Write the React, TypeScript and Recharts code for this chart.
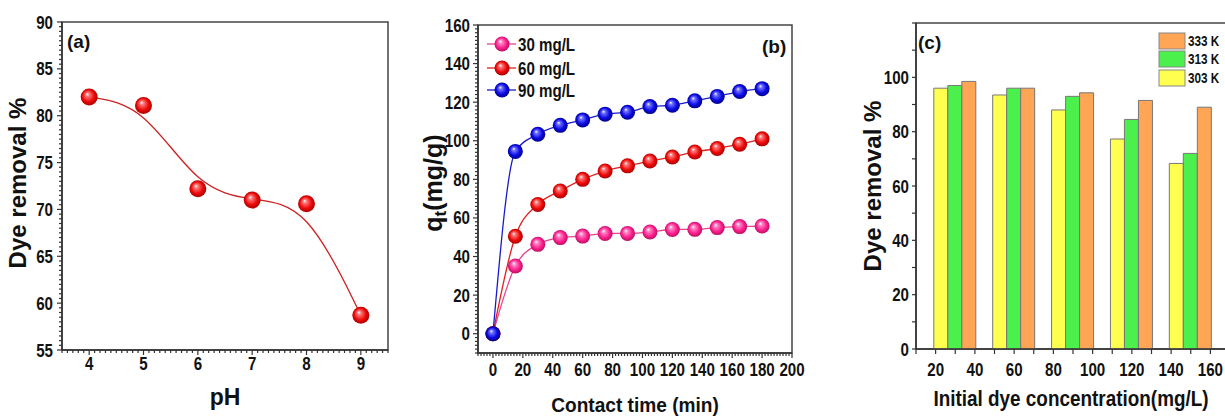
import React from "react";
import {
  Bar,
  BarChart,
  Customized,
  Line,
  LineChart,
  ReferenceArea,
  XAxis,
  YAxis,
} from "recharts";

// (a) effect of pH
const phValues = [4, 5, 6, 7, 8, 9];
const phRemoval = [82, 81.1, 72.2, 71, 70.6, 58.7];
const phTicks = [4, 5, 6, 7, 8, 9];
const phRemovalTicks = [55, 60, 65, 70, 75, 80, 85, 90];

// (b) effect of contact time
const contactTime = [0, 15, 30, 45, 60, 75, 90, 105, 120, 135, 150, 165, 180];
const qt30 = [0, 35.1, 46.3, 49.8, 50.6, 51.9, 52, 52.7, 54, 54.1, 55, 55.5, 55.8];
const qt60 = [0, 50.5, 67, 74, 80, 84.3, 87, 89.5, 91.6, 94.2, 96, 98.2, 101];
const qt90 = [0, 94.5, 103.4, 108, 110.8, 113.8, 114.8, 117.7, 118.4, 120.7, 123, 125.5, 127];
const timeTicks = [0, 20, 40, 60, 80, 100, 120, 140, 160, 180, 200];
const qtTicks = [0, 20, 40, 60, 80, 100, 120, 140, 160];

// (c) effect of initial concentration at three temperatures
const concentrations = [30, 60, 90, 120, 150];
const removal303 = [96, 93.5, 88, 77.3, 68.3];
const removal313 = [97, 96, 93, 84.5, 72];
const removal333 = [98.5, 96, 94.3, 91.5, 89];
const concTicks = [20, 40, 60, 80, 100, 120, 140, 160];
const removalTicks = [0, 20, 40, 60, 80, 100];

const phData = phValues.map((ph, i) => ({ ph, removal: phRemoval[i] }));
const kineticsData = contactTime.map((t, i) => ({
  t,
  c30: qt30[i],
  c60: qt60[i],
  c90: qt90[i],
}));
const concData = concentrations.map((c, i) => ({
  c,
  k303: removal303[i],
  k313: removal313[i],
  k333: removal333[i],
}));

// minor tick helper (axis decoration only)
const steps = (from: number, to: number, step: number) => {
  const out: number[] = [];
  for (let v = from; v <= to + 1e-9; v += step) out.push(+v.toFixed(3));
  return out;
};
const isIn = (list: number[], v: number) => list.some((m) => Math.abs(m - v) < 1e-6);

const FONT = "'Liberation Sans', Arial, sans-serif";
const INK = "#111";
const SQ = 0.84; // the figure uses a condensed bold face

const axisLine = { stroke: "#333", strokeWidth: 1.5 };
const TICK_STROKE = "#333";
const tickFont = { fill: INK, fontSize: 18, fontWeight: 700, fontFamily: FONT };

const bottomTick = (major: number[], gap: number, minorLen = 3, majorLen = 5) => (p: any) => {
  const v = p.payload.value;
  const big = isIn(major, v);
  return (
    <g key={`bx-${v}`}>
      <line x1={p.x} x2={p.x} y1={p.y} y2={p.y + (big ? majorLen : minorLen)} stroke={TICK_STROKE} strokeWidth={1.2} />
      {big && (
        <text transform={`translate(${p.x} ${p.y + gap}) scale(${SQ} 1)`} textAnchor="middle" {...tickFont}>
          {v}
        </text>
      )}
    </g>
  );
};

const leftTick = (major: number[], gap: number, minorLen = 3, majorLen = 5) => (p: any) => {
  const v = p.payload.value;
  const big = isIn(major, v);
  return (
    <g key={`ly-${v}`}>
      <line x1={p.x} x2={p.x - (big ? majorLen : minorLen)} y1={p.y} y2={p.y} stroke={TICK_STROKE} strokeWidth={1.2} />
      {big && (
        <text transform={`translate(${p.x - gap} ${p.y + 6.5}) scale(${SQ} 1)`} textAnchor="end" {...tickFont}>
          {v}
        </text>
      )}
    </g>
  );
};

const spheres = [
  { id: "red", light: "#ff7a7a", base: "#ee0a0a", dark: "#9a0000" },
  { id: "pink", light: "#ff8cc6", base: "#ff1f8f", dark: "#a80d55" },
  { id: "blue", light: "#7272ff", base: "#0a0ae6", dark: "#000070" },
];

function SphereDefs() {
  return (
    <defs>
      {spheres.map((s) => (
        <radialGradient key={s.id} id={`sph-${s.id}`} cx="0.5" cy="0.5" r="0.55" fx="0.38" fy="0.32">
          <stop offset="0" stopColor="#ffffff" />
          <stop offset="0.2" stopColor={s.light} />
          <stop offset="0.62" stopColor={s.base} />
          <stop offset="1" stopColor={s.dark} />
        </radialGradient>
      ))}
    </defs>
  );
}

const sphereDot = (id: string, r: number) => (p: any) => {
  if (p.cx == null || p.cy == null) return <g key={`${id}-${p.index}`} />;
  return <circle key={`${id}-${p.index}`} cx={p.cx} cy={p.cy} r={r} fill={`url(#sph-${id})`} />;
};

const titleStyle = { fill: INK, fontWeight: 700, fontFamily: FONT } as const;

function PhDecor() {
  return (
    <g>
      <SphereDefs />
      <text x={67} y={48} fontSize={19} {...titleStyle}>(a)</text>
      <text x={17} y={183} fontSize={24} textAnchor="middle" dominantBaseline="central"
        transform="rotate(-90 17 183)" {...titleStyle}>Dye removal %</text>
      <text x={225} y={405} fontSize={23} textAnchor="middle" {...titleStyle}>pH</text>
    </g>
  );
}

const kinRows = [
  { label: "30 mg/L", id: "pink", color: "#e8428e", y: 44 },
  { label: "60 mg/L", id: "red", color: "#e02020", y: 68 },
  { label: "90 mg/L", id: "blue", color: "#1a1acc", y: 90 },
];

function KineticsDecor() {
  return (
    <g>
      {kinRows.map((r) => (
        <g key={r.id}>
          <line x1={87} x2={116} y1={r.y} y2={r.y} stroke={r.color} strokeWidth={1.3} />
          <circle cx={102} cy={r.y} r={7.5} fill={`url(#sph-${r.id})`} />
          <text transform={`translate(118 ${r.y + 6.5}) scale(${SQ} 1)`} {...tickFont}>{r.label}</text>
        </g>
      ))}
      <text x={362} y={53} fontSize={19} {...titleStyle}>(b)</text>
      <text x={33} y={183} fontSize={25} textAnchor="middle" dominantBaseline="central"
        transform="rotate(-90 33 183)" {...titleStyle}>
        <tspan>q</tspan>
        <tspan dy={7} fontSize={17}>t</tspan>
        <tspan dy={-7}>(mg/g)</tspan>
      </text>
      <text transform={`translate(235 412) scale(0.91 1)`} fontSize={21} textAnchor="middle" {...titleStyle}>
        Contact time (min)
      </text>
    </g>
  );
}

const tempRows = [
  { label: "333 K", color: "#ffa556", y: 33 },
  { label: "313 K", color: "#4cf04c", y: 51 },
  { label: "303 K", color: "#ffff50", y: 70 },
];

function ConcDecor() {
  return (
    <g>
      {tempRows.map((r) => (
        <g key={r.label}>
          <rect x={329} y={r.y} width={26} height={16} fill={r.color} stroke="#888" strokeWidth={1} />
          <text transform={`translate(358 ${r.y + 13}) scale(${SQ} 1)`} {...tickFont} fontSize={14}>{r.label}</text>
        </g>
      ))}
      <text x={88} y={49} fontSize={19} {...titleStyle}>(c)</text>
      <text x={42} y={186} fontSize={24} textAnchor="middle" dominantBaseline="central"
        transform="rotate(-90 42 186)" {...titleStyle}>Dye removal %</text>
      <text transform={`translate(241 406) scale(0.86 1)`} fontSize={22} textAnchor="middle" {...titleStyle}>
        Initial dye concentration(mg/L)
      </text>
    </g>
  );
}

const axisCommon = { tickSize: 0, tickMargin: 0, tickLine: false, interval: 0 as const, allowDataOverflow: true };

function PhChart() {
  return (
    <LineChart width={400} height={416} data={phData} margin={{ top: 22, right: 12, bottom: 36, left: 0 }}>
      <XAxis dataKey="ph" type="number" domain={[3.5, 9.5]} ticks={steps(3.5, 9.5, 0.1)} height={30}
        axisLine={axisLine} tick={bottomTick(phTicks, 20)} {...axisCommon} />
      <YAxis type="number" domain={[55, 90]} ticks={steps(55, 90, 0.5)} width={62}
        axisLine={axisLine} tick={leftTick(phRemovalTicks, 9)} {...axisCommon} />
      <ReferenceArea x1={3.5} x2={9.5} y1={55} y2={90} fill="none" stroke="#444" strokeWidth={1.5} ifOverflow="visible" />
      <Customized component={PhDecor} />
      <Line dataKey="removal" type="basis" stroke="#cc2222" strokeWidth={1.3}
        dot={sphereDot("red", 8.5)} activeDot={false} isAnimationActive={false} />
    </LineChart>
  );
}

function KineticsChart() {
  return (
    <LineChart width={420} height={416} data={kineticsData} margin={{ top: 25, right: 28, bottom: 33, left: 0 }}>
      <XAxis dataKey="t" type="number" domain={[-10, 200]} ticks={steps(-10, 200, 2)} height={30}
        axisLine={axisLine} tick={bottomTick(timeTicks, 23)} {...axisCommon} />
      <YAxis type="number" domain={[-10, 160]} ticks={steps(-10, 160, 2)} width={78}
        axisLine={axisLine} tick={leftTick(qtTicks, 8)} {...axisCommon} />
      <ReferenceArea x1={-10} x2={200} y1={-10} y2={160} fill="none" stroke="#444" strokeWidth={1.5} ifOverflow="visible" />
      <Customized component={KineticsDecor} />
      <Line dataKey="c30" type="monotone" stroke="#e8428e" strokeWidth={1.3}
        dot={sphereDot("pink", 7.5)} activeDot={false} isAnimationActive={false} />
      <Line dataKey="c60" type="monotone" stroke="#e02020" strokeWidth={1.3}
        dot={sphereDot("red", 7.5)} activeDot={false} isAnimationActive={false} />
      <Line dataKey="c90" type="monotone" stroke="#1a1acc" strokeWidth={1.3}
        dot={sphereDot("blue", 7.5)} activeDot={false} isAnimationActive={false} />
    </LineChart>
  );
}

function ConcChart() {
  return (
    <BarChart width={400} height={416} data={concData} barGap={0}
      margin={{ top: 23, right: 0, bottom: 37, left: 0 }}>
      <XAxis dataKey="c" type="number" domain={[10, 170]} ticks={steps(10, 170, 10)} height={30}
        axisLine={axisLine} tick={bottomTick(concTicks, 27, 5, 5)} {...axisCommon} />
      <YAxis type="number" domain={[0, 120]} ticks={steps(0, 120, 10)} width={86}
        axisLine={axisLine} tick={leftTick(removalTicks, 7, 4, 4)} {...axisCommon} />
      <ReferenceArea x1={10} x2={170} y1={0} y2={120} fill="none" stroke="#444" strokeWidth={1.5} ifOverflow="visible" />
      <Bar dataKey="k303" barSize={14} fill="#ffff50" stroke="#777" strokeWidth={1} isAnimationActive={false} />
      <Bar dataKey="k313" barSize={14} fill="#4cf04c" stroke="#777" strokeWidth={1} isAnimationActive={false} />
      <Bar dataKey="k333" barSize={14} fill="#ffa556" stroke="#777" strokeWidth={1} isAnimationActive={false} />
      <Customized component={ConcDecor} />
    </BarChart>
  );
}

export default function App() {
  return (
    <div style={{ position: "absolute", left: 0, top: 0, width: 1225, height: 416, overflow: "hidden", background: "#fff" }}>
      <div style={{ position: "absolute", left: 0, top: 0 }}>
        <PhChart />
      </div>
      <div style={{ position: "absolute", left: 400, top: 0 }}>
        <KineticsChart />
      </div>
      <div style={{ position: "absolute", left: 830, top: 0 }}>
        <ConcChart />
      </div>
    </div>
  );
}
